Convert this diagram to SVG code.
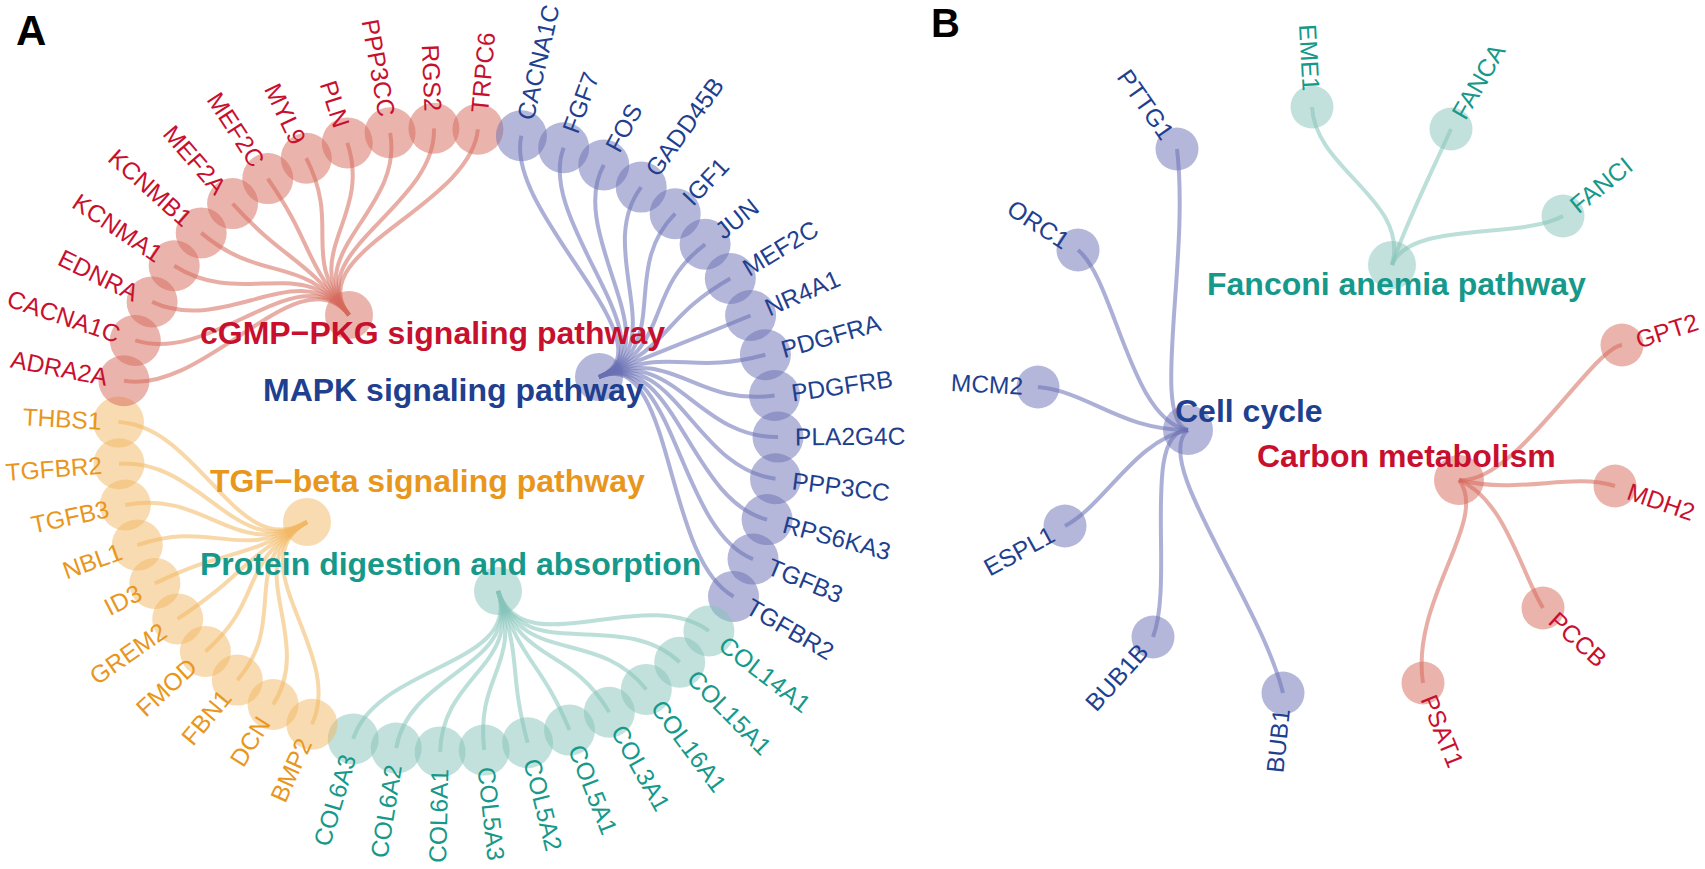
<svg xmlns="http://www.w3.org/2000/svg" width="1705" height="869" viewBox="0 0 1705 869">
<style>
text{font-family:"Liberation Sans",Arial,Helvetica,sans-serif}
.g text{font-size:24.5px}
.L{text-anchor:end}
.hub text{font-weight:bold;font-size:32px}
.panel{font-weight:bold;fill:#000}
.r circle{fill:#D5695B;fill-opacity:.5}
.r text{fill:#C8102E}
.b circle{fill:#6A6FB4;fill-opacity:.5}
.b text{fill:#1F3F8F}
.o circle{fill:#F2B863;fill-opacity:.5}
.o text{fill:#E8961C}
.t circle{fill:#85C4BA;fill-opacity:.5}
.t text{fill:#16998A}
#connectors path{fill:none;stroke-width:4;stroke-opacity:.55}
.er{stroke:#D5695B}
.eb{stroke:#6A6FB4}
.eo{stroke:#F2B863}
.et{stroke:#85C4BA}
</style>
<rect width="1705" height="869" fill="#fff"/>
<text class="panel" x="16" y="45" font-size="42">A</text>
<text class="panel" x="931" y="37" font-size="40">B</text>

<g id="connectors">
<g class="er">
<path d="M124,380.7 C205,395.5 299.5,252.5 349,315"/>
<path d="M135.3,340.4 C213.5,365.3 299.5,252.5 349,315"/>
<path d="M152.1,301.9 C226.1,336.4 299.5,252.5 349,315"/>
<path d="M174.2,265.8 C242.7,309.4 299.5,252.5 349,315"/>
<path d="M201.2,232.9 C262.9,284.7 299.5,252.5 349,315"/>
<path d="M232.6,203.6 C286.5,262.7 299.5,252.5 349,315"/>
<path d="M267.8,178.6 C312.9,244 299.5,252.5 349,315"/>
<path d="M306.3,158.2 C341.7,228.7 299.5,252.5 349,315"/>
<path d="M347.3,142.9 C372.5,217.2 299.5,252.5 349,315"/>
<path d="M390.1,132.8 C404.6,209.6 299.5,252.5 349,315"/>
<path d="M433.9,128.3 C437.4,206.2 299.5,252.5 349,315"/>
<path d="M477.9,129.3 C470.4,207 299.5,252.5 349,315"/>
</g>
<g class="eb">
<path d="M521.4,135.8 C503.1,211.9 674.5,345.5 599,377"/>
<path d="M563.7,147.8 C534.8,220.9 674.5,345.5 599,377"/>
<path d="M603.8,165 C564.9,233.8 674.5,345.5 599,377"/>
<path d="M641.2,187.1 C592.9,250.3 674.5,345.5 599,377"/>
<path d="M675.2,213.7 C618.4,270.3 674.5,345.5 599,377"/>
<path d="M705.1,244.3 C640.8,293.2 674.5,345.5 599,377"/>
<path d="M730.3,278.5 C659.7,318.9 674.5,345.5 599,377"/>
<path d="M750.6,315.5 C675,346.6 674.5,345.5 599,377"/>
<path d="M765.4,354.7 C686.1,376 674.5,345.5 599,377"/>
<path d="M774.6,395.5 C693,406.6 674.5,345.5 599,377"/>
<path d="M778,437.1 C695.5,437.8 674.5,345.5 599,377"/>
<path d="M775.5,478.7 C693.6,469 674.5,345.5 599,377"/>
<path d="M767.1,519.6 C687.3,499.7 674.5,345.5 599,377"/>
<path d="M753,559.1 C676.8,529.3 674.5,345.5 599,377"/>
<path d="M733.5,596.4 C662.1,557.3 674.5,345.5 599,377"/>
</g>
<g class="et">
<path d="M708.9,631 C643.7,583.3 523,666.5 498,591"/>
<path d="M679.7,662.2 C621.8,606.7 523,666.5 498,591"/>
<path d="M646.3,689.4 C596.7,627.1 523,666.5 498,591"/>
<path d="M609.3,712.2 C569,644.2 523,666.5 498,591"/>
<path d="M569.5,730.1 C539.1,657.6 523,666.5 498,591"/>
<path d="M527.6,742.8 C507.7,667.1 523,666.5 498,591"/>
<path d="M484.2,750.1 C475.2,672.6 523,666.5 498,591"/>
<path d="M440.1,751.9 C442.1,673.9 523,666.5 498,591"/>
<path d="M396.2,748.1 C409.2,671.1 523,666.5 498,591"/>
<path d="M353.2,738.9 C376.9,664.2 523,666.5 498,591"/>
</g>
<g class="eo">
<path d="M311.9,724.2 C345.9,653.2 236.5,563 307,522"/>
<path d="M273.1,704.5 C316.8,638.4 236.5,563 307,522"/>
<path d="M237.3,680.1 C290,620.1 236.5,563 307,522"/>
<path d="M205.4,651.4 C266.1,598.6 236.5,563 307,522"/>
<path d="M177.7,618.9 C245.3,574.2 236.5,563 307,522"/>
<path d="M154.9,583.4 C228.2,547.6 236.5,563 307,522"/>
<path d="M137.3,545.1 C215,518.8 236.5,563 307,522"/>
<path d="M125.3,505 C206,488.8 236.5,563 307,522"/>
<path d="M119,463.8 C201.3,457.9 236.5,563 307,522"/>
<path d="M118.5,422.1 C200.9,426.6 236.5,563 307,522"/>
</g>
<g class="eb">
<path d="M1177,149 C1190,260 1150,420 1188,430"/>
<path d="M1078,250 C1115,280 1130,420 1188,430"/>
<path d="M1038,387 C1090,392 1120,430 1188,430"/>
<path d="M1065,526 C1105,505 1135,440 1188,430"/>
<path d="M1153,637 C1175,580 1140,430 1188,430"/>
<path d="M1283,693 C1260,600 1150,460 1188,430"/>
</g>
<g class="et">
<path d="M1312,107 C1315,170 1410,200 1392,265"/>
<path d="M1451,129 C1435,165 1405,225 1392,265"/>
<path d="M1563,216 C1520,240 1410,220 1392,265"/>
</g>
<g class="er">
<path d="M1622,345 C1590,350 1515,485 1459,480"/>
<path d="M1615,486 C1570,472 1520,495 1459,480"/>
<path d="M1543,608 C1520,570 1505,500 1459,480"/>
<path d="M1423,683 C1410,600 1490,520 1459,480"/>
</g>
</g>

<g id="nodes-A">
<g id="n-TRPC6" class="g r"><circle cx="477.9" cy="129.3" r="25.5"/><text transform="translate(477.9,129.3) rotate(-84.8)" x="17" dy=".35em">TRPC6</text></g>
<g id="n-CACNA1C-mapk" class="g b"><circle cx="521.4" cy="135.8" r="25.5"/><text transform="translate(521.4,135.8) rotate(-77.14)" x="17" dy=".35em">CACNA1C</text></g>
<g id="n-FGF7" class="g b"><circle cx="563.7" cy="147.8" r="25.5"/><text transform="translate(563.7,147.8) rotate(-69.48)" x="17" dy=".35em">FGF7</text></g>
<g id="n-FOS" class="g b"><circle cx="603.8" cy="165" r="25.5"/><text transform="translate(603.8,165) rotate(-61.82)" x="17" dy=".35em">FOS</text></g>
<g id="n-GADD45B" class="g b"><circle cx="641.2" cy="187.1" r="25.5"/><text transform="translate(641.2,187.1) rotate(-54.16)" x="17" dy=".35em">GADD45B</text></g>
<g id="n-IGF1" class="g b"><circle cx="675.2" cy="213.7" r="25.5"/><text transform="translate(675.2,213.7) rotate(-46.5)" x="17" dy=".35em">IGF1</text></g>
<g id="n-JUN" class="g b"><circle cx="705.1" cy="244.3" r="25.5"/><text transform="translate(705.1,244.3) rotate(-38.84)" x="17" dy=".35em">JUN</text></g>
<g id="n-MEF2C-mapk" class="g b"><circle cx="730.3" cy="278.5" r="25.5"/><text transform="translate(730.3,278.5) rotate(-31.18)" x="17" dy=".35em">MEF2C</text></g>
<g id="n-NR4A1" class="g b"><circle cx="750.6" cy="315.5" r="25.5"/><text transform="translate(750.6,315.5) rotate(-23.52)" x="17" dy=".35em">NR4A1</text></g>
<g id="n-PDGFRA" class="g b"><circle cx="765.4" cy="354.7" r="25.5"/><text transform="translate(765.4,354.7) rotate(-15.86)" x="17" dy=".35em">PDGFRA</text></g>
<g id="n-PDGFRB" class="g b"><circle cx="774.6" cy="395.5" r="25.5"/><text transform="translate(774.6,395.5) rotate(-8.2)" x="17" dy=".35em">PDGFRB</text></g>
<g id="n-PLA2G4C" class="g b"><circle cx="778" cy="437.1" r="25.5"/><text transform="translate(778,437.1) rotate(-0.54)" x="17" dy=".35em">PLA2G4C</text></g>
<g id="n-PPP3CC-mapk" class="g b"><circle cx="775.5" cy="478.7" r="25.5"/><text transform="translate(775.5,478.7) rotate(7.12)" x="17" dy=".35em">PPP3CC</text></g>
<g id="n-RPS6KA3" class="g b"><circle cx="767.1" cy="519.6" r="25.5"/><text transform="translate(767.1,519.6) rotate(14.78)" x="17" dy=".35em">RPS6KA3</text></g>
<g id="n-TGFB3-mapk" class="g b"><circle cx="753" cy="559.1" r="25.5"/><text transform="translate(753,559.1) rotate(22.44)" x="17" dy=".35em">TGFB3</text></g>
<g id="n-TGFBR2-mapk" class="g b"><circle cx="733.5" cy="596.4" r="25.5"/><text transform="translate(733.5,596.4) rotate(30.09)" x="17" dy=".35em">TGFBR2</text></g>
<g id="n-COL14A1" class="g t"><circle cx="708.9" cy="631" r="25.5"/><text transform="translate(708.9,631) rotate(37.75)" x="17" dy=".35em">COL14A1</text></g>
<g id="n-COL15A1" class="g t"><circle cx="679.7" cy="662.2" r="25.5"/><text transform="translate(679.7,662.2) rotate(45.41)" x="17" dy=".35em">COL15A1</text></g>
<g id="n-COL16A1" class="g t"><circle cx="646.3" cy="689.4" r="25.5"/><text transform="translate(646.3,689.4) rotate(53.07)" x="17" dy=".35em">COL16A1</text></g>
<g id="n-COL3A1" class="g t"><circle cx="609.3" cy="712.2" r="25.5"/><text transform="translate(609.3,712.2) rotate(60.73)" x="17" dy=".35em">COL3A1</text></g>
<g id="n-COL5A1" class="g t"><circle cx="569.5" cy="730.1" r="25.5"/><text transform="translate(569.5,730.1) rotate(68.39)" x="17" dy=".35em">COL5A1</text></g>
<g id="n-COL5A2" class="g t"><circle cx="527.6" cy="742.8" r="25.5"/><text transform="translate(527.6,742.8) rotate(76.05)" x="17" dy=".35em">COL5A2</text></g>
<g id="n-COL5A3" class="g t"><circle cx="484.2" cy="750.1" r="25.5"/><text transform="translate(484.2,750.1) rotate(83.71)" x="17" dy=".35em">COL5A3</text></g>
<g id="n-COL6A1" class="g t"><circle cx="440.1" cy="751.9" r="25.5"/><text class="L" transform="translate(440.1,751.9) rotate(-88.63)" x="-17" dy=".35em">COL6A1</text></g>
<g id="n-COL6A2" class="g t"><circle cx="396.2" cy="748.1" r="25.5"/><text class="L" transform="translate(396.2,748.1) rotate(-80.97)" x="-17" dy=".35em">COL6A2</text></g>
<g id="n-COL6A3" class="g t"><circle cx="353.2" cy="738.9" r="25.5"/><text class="L" transform="translate(353.2,738.9) rotate(-73.31)" x="-17" dy=".35em">COL6A3</text></g>
<g id="n-BMP2" class="g o"><circle cx="311.9" cy="724.2" r="25.5"/><text class="L" transform="translate(311.9,724.2) rotate(-65.65)" x="-17" dy=".35em">BMP2</text></g>
<g id="n-DCN" class="g o"><circle cx="273.1" cy="704.5" r="25.5"/><text class="L" transform="translate(273.1,704.5) rotate(-57.99)" x="-17" dy=".35em">DCN</text></g>
<g id="n-FBN1" class="g o"><circle cx="237.3" cy="680.1" r="25.5"/><text class="L" transform="translate(237.3,680.1) rotate(-50.33)" x="-17" dy=".35em">FBN1</text></g>
<g id="n-FMOD" class="g o"><circle cx="205.4" cy="651.4" r="25.5"/><text class="L" transform="translate(205.4,651.4) rotate(-42.67)" x="-17" dy=".35em">FMOD</text></g>
<g id="n-GREM2" class="g o"><circle cx="177.7" cy="618.9" r="25.5"/><text class="L" transform="translate(177.7,618.9) rotate(-35.01)" x="-17" dy=".35em">GREM2</text></g>
<g id="n-ID3" class="g o"><circle cx="154.9" cy="583.4" r="25.5"/><text class="L" transform="translate(154.9,583.4) rotate(-27.35)" x="-17" dy=".35em">ID3</text></g>
<g id="n-NBL1" class="g o"><circle cx="137.3" cy="545.1" r="25.5"/><text class="L" transform="translate(137.3,545.1) rotate(-19.69)" x="-17" dy=".35em">NBL1</text></g>
<g id="n-TGFB3-tgf" class="g o"><circle cx="125.3" cy="505" r="25.5"/><text class="L" transform="translate(125.3,505) rotate(-12.03)" x="-17" dy=".35em">TGFB3</text></g>
<g id="n-TGFBR2-tgf" class="g o"><circle cx="119" cy="463.8" r="25.5"/><text class="L" transform="translate(119,463.8) rotate(-4.37)" x="-17" dy=".35em">TGFBR2</text></g>
<g id="n-THBS1" class="g o"><circle cx="118.5" cy="422.1" r="25.5"/><text class="L" transform="translate(118.5,422.1) rotate(3.29)" x="-17" dy=".35em">THBS1</text></g>
<g id="n-ADRA2A" class="g r"><circle cx="124" cy="380.7" r="25.5"/><text class="L" transform="translate(124,380.7) rotate(10.95)" x="-17" dy=".35em">ADRA2A</text></g>
<g id="n-CACNA1C-cgmp" class="g r"><circle cx="135.3" cy="340.4" r="25.5"/><text class="L" transform="translate(135.3,340.4) rotate(18.61)" x="-17" dy=".35em">CACNA1C</text></g>
<g id="n-EDNRA" class="g r"><circle cx="152.1" cy="301.9" r="25.5"/><text class="L" transform="translate(152.1,301.9) rotate(26.27)" x="-17" dy=".35em">EDNRA</text></g>
<g id="n-KCNMA1" class="g r"><circle cx="174.2" cy="265.8" r="25.5"/><text class="L" transform="translate(174.2,265.8) rotate(33.93)" x="-17" dy=".35em">KCNMA1</text></g>
<g id="n-KCNMB1" class="g r"><circle cx="201.2" cy="232.9" r="25.5"/><text class="L" transform="translate(201.2,232.9) rotate(41.59)" x="-17" dy=".35em">KCNMB1</text></g>
<g id="n-MEF2A" class="g r"><circle cx="232.6" cy="203.6" r="25.5"/><text class="L" transform="translate(232.6,203.6) rotate(49.25)" x="-17" dy=".35em">MEF2A</text></g>
<g id="n-MEF2C-cgmp" class="g r"><circle cx="267.8" cy="178.6" r="25.5"/><text class="L" transform="translate(267.8,178.6) rotate(56.91)" x="-17" dy=".35em">MEF2C</text></g>
<g id="n-MYL9" class="g r"><circle cx="306.3" cy="158.2" r="25.5"/><text class="L" transform="translate(306.3,158.2) rotate(64.57)" x="-17" dy=".35em">MYL9</text></g>
<g id="n-PLN" class="g r"><circle cx="347.3" cy="142.9" r="25.5"/><text class="L" transform="translate(347.3,142.9) rotate(72.23)" x="-17" dy=".35em">PLN</text></g>
<g id="n-PPP3CC-cgmp" class="g r"><circle cx="390.1" cy="132.8" r="25.5"/><text class="L" transform="translate(390.1,132.8) rotate(79.89)" x="-17" dy=".35em">PPP3CC</text></g>
<g id="n-RGS2" class="g r"><circle cx="433.9" cy="128.3" r="25.5"/><text class="L" transform="translate(433.9,128.3) rotate(87.55)" x="-17" dy=".35em">RGS2</text></g>
</g>

<g id="hubs-A">
<g id="h-cGMP" class="hub r"><circle cx="349" cy="315" r="24"/><text x="200" y="344">cGMP&#8722;PKG signaling pathway</text></g>
<g id="h-MAPK" class="hub b"><circle cx="599" cy="377" r="24"/><text x="263" y="401">MAPK signaling pathway</text></g>
<g id="h-TGF" class="hub o"><circle cx="307" cy="522" r="24"/><text x="210" y="492">TGF&#8722;beta signaling pathway</text></g>
<g id="h-Protein" class="hub t"><circle cx="498" cy="591" r="24"/><text x="200" y="575">Protein digestion and absorption</text></g>
</g>

<g id="nodes-B">
<g id="n-PTTG1" class="g b"><circle cx="1177" cy="149" r="21.5"/><text class="L" transform="translate(1177,149) rotate(55)" x="-15" dy=".35em">PTTG1</text></g>
<g id="n-ORC1" class="g b"><circle cx="1078" cy="250" r="21.5"/><text class="L" transform="translate(1078,250) rotate(33)" x="-13" dy=".35em">ORC1</text></g>
<g id="n-MCM2" class="g b"><circle cx="1038" cy="387" r="21.5"/><text class="L" transform="translate(1038,387) rotate(3)" x="-15" dy=".35em">MCM2</text></g>
<g id="n-ESPL1" class="g b"><circle cx="1065" cy="526" r="21.5"/><text class="L" transform="translate(1065,526) rotate(-28.6)" x="-14" dy=".35em">ESPL1</text></g>
<g id="n-BUB1B" class="g b"><circle cx="1153" cy="637" r="21.5"/><text class="L" transform="translate(1153,637) rotate(-48)" x="-14" dy=".35em">BUB1B</text></g>
<g id="n-BUB1" class="g b"><circle cx="1283" cy="693" r="21.5"/><text class="L" transform="translate(1283,693) rotate(-84)" x="-16" dy=".35em">BUB1</text></g>
<g id="n-EME1" class="g t"><circle cx="1312" cy="107" r="21.5"/><text class="L" transform="translate(1312,107) rotate(87)" x="-16" dy=".35em">EME1</text></g>
<g id="n-FANCA" class="g t"><circle cx="1451" cy="129" r="21.5"/><text transform="translate(1451,129) rotate(-60)" x="14" dy=".35em">FANCA</text></g>
<g id="n-FANCI" class="g t"><circle cx="1563" cy="216" r="21.5"/><text transform="translate(1563,216) rotate(-39)" x="13" dy=".35em">FANCI</text></g>
<g id="n-GPT2" class="g r"><circle cx="1622" cy="345" r="21.5"/><text transform="translate(1622,345) rotate(-17.5)" x="15" dy=".35em">GPT2</text></g>
<g id="n-MDH2" class="g r"><circle cx="1615" cy="486" r="21.5"/><text transform="translate(1615,486) rotate(19)" x="14" dy=".35em">MDH2</text></g>
<g id="n-PCCB" class="g r"><circle cx="1543" cy="608" r="21.5"/><text transform="translate(1543,608) rotate(42)" x="13" dy=".35em">PCCB</text></g>
<g id="n-PSAT1" class="g r"><circle cx="1423" cy="683" r="21.5"/><text transform="translate(1423,683) rotate(68)" x="14" dy=".35em">PSAT1</text></g>
</g>

<g id="hubs-B">
<g id="h-CellCycle" class="hub b"><circle cx="1188" cy="430" r="25"/><text x="1175" y="422">Cell cycle</text></g>
<g id="h-Fanconi" class="hub t"><circle cx="1392" cy="265" r="24"/><text x="1207" y="295">Fanconi anemia pathway</text></g>
<g id="h-Carbon" class="hub r"><circle cx="1459" cy="480" r="25"/><text x="1257" y="467">Carbon metabolism</text></g>
</g>
</svg>
